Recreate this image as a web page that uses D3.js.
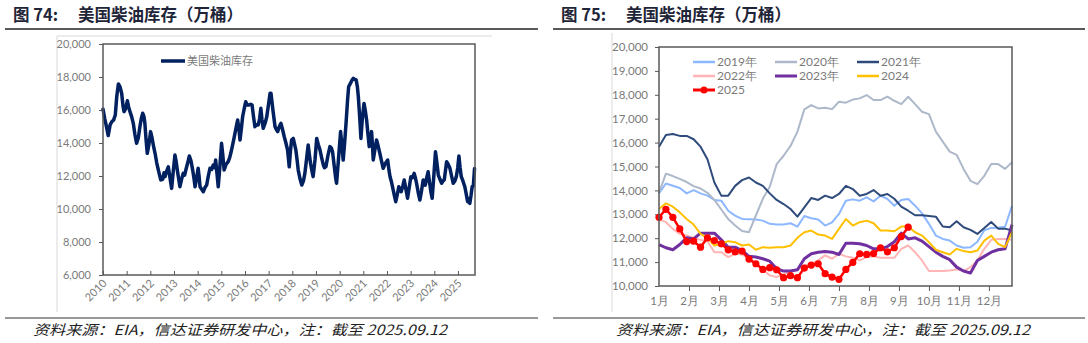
<!DOCTYPE html>
<html><head><meta charset="utf-8">
<script src="https://cdn.jsdelivr.net/npm/d3@7"></script>
<style>body{margin:0;background:#fff}</style>
</head><body><svg id="c" width="1088" height="343"></svg>
<script>
// ---------- DATA ----------
const leftDates = [2010.00,2010.07,2010.13,2010.22,2010.30,2010.37,2010.45,2010.52,2010.58,2010.65,2010.72,2010.79,2010.85,2010.89,2010.96,2011.03,2011.08,2011.14,2011.21,2011.28,2011.35,2011.42,2011.49,2011.56,2011.62,2011.68,2011.73,2011.77,2011.82,2011.87,2011.94,2012.01,2012.06,2012.10,2012.15,2012.20,2012.27,2012.34,2012.44,2012.52,2012.58,2012.62,2012.69,2012.76,2012.83,2012.90,2012.97,2013.04,2013.09,2013.14,2013.20,2013.25,2013.32,2013.39,2013.45,2013.50,2013.58,2013.65,2013.72,2013.79,2013.85,2013.89,2013.96,2014.02,2014.06,2014.10,2014.17,2014.24,2014.31,2014.38,2014.45,2014.52,2014.59,2014.66,2014.72,2014.76,2014.82,2014.87,2014.94,2015.01,2015.06,2015.12,2015.20,2015.29,2015.35,2015.40,2015.48,2015.55,2015.62,2015.69,2015.74,2015.79,2015.85,2015.90,2015.97,2016.03,2016.10,2016.17,2016.24,2016.30,2016.36,2016.42,2016.49,2016.56,2016.62,2016.67,2016.72,2016.77,2016.85,2016.92,2017.00,2017.06,2017.10,2017.18,2017.27,2017.33,2017.38,2017.45,2017.52,2017.59,2017.66,2017.73,2017.80,2017.84,2017.87,2017.92,2017.97,2018.04,2018.10,2018.15,2018.20,2018.25,2018.33,2018.40,2018.47,2018.53,2018.60,2018.67,2018.72,2018.77,2018.83,2018.88,2018.96,2019.03,2019.10,2019.17,2019.24,2019.31,2019.36,2019.42,2019.50,2019.59,2019.65,2019.70,2019.78,2019.83,2019.87,2019.95,2020.04,2020.10,2020.15,2020.21,2020.27,2020.33,2020.38,2020.45,2020.52,2020.58,2020.64,2020.70,2020.75,2020.79,2020.85,2020.90,2020.96,2021.03,2021.08,2021.14,2021.20,2021.25,2021.30,2021.35,2021.39,2021.42,2021.49,2021.56,2021.63,2021.70,2021.77,2021.84,2021.91,2021.98,2022.03,2022.08,2022.13,2022.18,2022.22,2022.30,2022.37,2022.44,2022.50,2022.55,2022.60,2022.67,2022.73,2022.80,2022.87,2022.94,2023.01,2023.08,2023.15,2023.20,2023.25,2023.32,2023.39,2023.46,2023.53,2023.58,2023.62,2023.68,2023.74,2023.80,2023.86,2023.91,2023.98,2024.05,2024.11,2024.17,2024.24,2024.31,2024.37,2024.42,2024.47,2024.52,2024.59,2024.66,2024.73,2024.80,2024.87,2024.93,2024.99,2025.04,2025.09,2025.14,2025.21,2025.29,2025.35,2025.41,2025.46,2025.50,2025.55,2025.60,2025.65,2025.70];
const leftValues = [16050,15500,15100,14450,15100,15290,15400,15700,16800,17580,17400,17000,16200,15900,16100,16560,16200,15900,15600,15190,14500,13980,14300,14990,15500,15800,15600,15190,14200,13375,13900,14690,14400,14080,13700,13375,12800,12360,11760,11800,12200,11960,12300,12560,11900,11250,12300,13270,12900,12360,11800,11350,11800,12160,12050,12360,12800,13210,12900,12360,11800,11350,11900,12470,12000,11350,11200,11050,11300,11450,12000,12470,12400,12670,12500,12970,12100,11350,12600,13980,13300,12360,12700,12870,13100,13375,13900,14380,14900,15390,14900,14180,14900,15590,16100,16500,16300,16300,16350,16300,15600,14990,15100,15090,15500,16100,15400,14890,15200,15590,16400,17010,17010,16000,14990,14800,14690,15000,15190,14800,14380,14000,13575,13000,12560,13500,14180,14280,13900,13575,13000,12360,11800,11450,11700,12160,13000,13880,13300,12770,12300,11960,13000,14280,13900,13575,13100,12670,12500,12570,13200,13780,13700,13475,12500,11900,11560,13000,14690,13800,12970,14000,15190,16500,17410,17600,17800,17920,17850,17820,17400,16805,15500,14280,15500,16400,16000,15390,14500,13780,14300,14690,13800,12970,13600,14180,13800,13375,12900,12470,12700,12870,12970,12400,11960,11700,11450,10900,10440,10900,11350,11200,11050,11400,11760,11200,10650,11300,11960,11900,12160,11900,11560,11000,10545,11100,11760,11600,11450,11900,12260,11600,11000,10650,12000,13475,12800,12060,11800,11560,11700,11760,12300,12870,12700,12470,12000,11560,11700,11960,12500,13210,12500,11960,11700,11350,10900,10440,10600,10340,10800,11350,11400,12450];
const leftYearTicks = [2010,2011,2012,2013,2014,2015,2016,2017,2018,2019,2020,2021,2022,2023,2024,2025];
const leftYTicks = [6000,8000,10000,12000,14000,16000,18000,20000];
const leftSeriesName = "美国柴油库存";

const monthLabels = ["1月","2月","3月","4月","5月","6月","7月","8月","9月","10月","11月","12月"];
const rightYTicks = [10000,11000,12000,13000,14000,15000,16000,17000,18000,19000,20000];
const seriesNames = ["2019年","2020年","2021年","2022年","2023年","2024","2025"];
const s2019 = [13875,14290,14195,14100,13875,14015,13875,13780,13600,13570,13150,12945,12805,12790,12780,12735,12600,12570,12570,12625,12485,12930,12835,12780,12530,12665,13015,13570,13625,13570,13710,13540,13780,13640,13360,13600,13640,13360,13040,12600,12110,11970,11900,11695,11600,11620,11850,12330,12430,12440,12480,13360];
const s2020 = [13900,14700,14600,14480,14350,14180,14080,13900,13600,13200,12800,12530,12300,12250,12950,13650,14150,15100,15450,15860,16460,17390,17570,17430,17460,17400,17710,17670,17800,17850,17990,17780,17780,17920,17750,17610,17920,17610,17290,17190,16460,16040,15625,15490,14900,14400,14265,14610,15100,15100,14900,15180];
const s2021 = [15830,16320,16360,16280,16280,16140,15830,15300,14330,13780,13780,14190,14430,14540,14330,14190,13875,13600,13430,13220,12900,13290,13680,13600,13780,13680,13850,14190,14055,13780,13850,14015,13780,13850,13650,13320,13150,12960,12960,12930,12900,12490,12460,12710,12460,12350,12180,12430,12680,12400,12400,12320];
const s2022 = [12800,12670,12390,12180,12110,12015,11930,11875,11415,11415,11210,11350,11320,11140,10930,10680,10445,10375,10490,10625,10680,10860,10930,11070,11280,11140,11350,11240,11180,11070,11210,11240,11180,11180,11180,11555,11695,11415,11070,10625,10625,10625,10650,10695,10625,10790,11070,11555,11930,11970,11970,11930];
const s2023 = [11735,11600,11515,11735,12015,11970,12210,12210,12210,11930,11625,11625,11485,11240,11210,11140,11040,10720,10625,10625,10680,11140,11350,11415,11445,11415,11320,11790,11790,11765,11695,11555,11555,11650,11850,12210,11970,12015,11875,11650,11415,11240,11100,10790,10625,10540,11070,11240,11415,11515,11555,12570];
const s2024 = [13220,13460,13320,13080,12805,12570,12180,12015,11695,11765,11875,11835,11695,11735,11515,11625,11600,11625,11625,11695,12015,12250,12320,12150,12110,11970,12390,12805,12530,12670,12735,12625,12320,12320,12290,12485,12485,12250,12110,11835,11515,11415,11320,11555,11460,11415,11485,11900,12110,11765,11625,12250];
const s2025 = [12875,13210,12875,12390,11860,11875,11625,12015,11900,11765,11515,11430,11460,11125,10930,10695,10765,10680,10350,10430,10350,10750,10875,10930,10515,10375,10280,10695,10985,11350,11320,11360,11600,11430,11600,12070,12460];

// ---------- STYLE ----------
const colors = ["#8db8ff","#adb8ca","#2f4b7c","#ffb5b5","#7030a0","#ffc000","#ff0000"];
const widths = [2,2,2,2,3,2,2.5];
const tickFont = "Lato, 'Liberation Sans', sans-serif";
const cjk = "'Noto Sans CJK SC', sans-serif";
const tickColor = "#7a7a7a";
const frameColor = "#595959";

const svg = d3.select("#c");
svg.append("rect").attr("width",1088).attr("height",343).attr("fill","#fff");

// titles and rules
function header(x0, x1, num) {
  svg.append("text").attr("x", x0 + 8).attr("y", 21).attr("font-family", cjk).attr("font-weight", "bold")
    .attr("font-size", 16.5).attr("fill", "#1f2538").text("图 " + num + ":");
  svg.append("text").attr("x", x0 + 73).attr("y", 21).attr("font-family", cjk).attr("font-weight", "bold")
    .attr("font-size", 16.5).attr("fill", "#1f2538").text("美国柴油库存（万桶）");
  svg.append("line").attr("x1", x0).attr("x2", x1).attr("y1", 29).attr("y2", 29)
    .attr("stroke", "#222").attr("stroke-width", 1.5);
  svg.append("line").attr("x1", x0).attr("x2", x1).attr("y1", 318).attr("y2", 318)
    .attr("stroke", "#333").attr("stroke-width", 1);
}
header(5, 538, 74);
header(553, 1085, 75);

function footer(x) {
  svg.append("text").attr("x", x).attr("y", 335).attr("font-family", cjk).attr("font-style", "italic")
    .attr("font-size", 14).attr("fill", "#222").attr("textLength", 414).attr("lengthAdjust", "spacingAndGlyphs")
    .text("资料来源：EIA，信达证券研发中心，注：截至 2025.09.12");
}
footer(33);
footer(616);

// outer chart-area borders (light gray)
svg.append("line").attr("x1",57).attr("x2",57).attr("y1",36).attr("y2",312).attr("stroke","#d9d9d9");
svg.append("line").attr("x1",57).attr("x2",492).attr("y1",36).attr("y2",36).attr("stroke","#d9d9d9");
svg.append("line").attr("x1",612).attr("x2",612).attr("y1",33).attr("y2",312).attr("stroke","#d9d9d9");

// ---------- LEFT CHART ----------
const L = {x0:103, x1:475, y0:44, y1:275};
const xL = d3.scaleLinear().domain([2010, 2025.72]).range([L.x0, L.x1]);
const yL = d3.scaleLinear().domain([6000, 20000]).range([L.y1, L.y0]);

const gL = svg.append("g");
const yAxL = gL.append("g").attr("transform", `translate(${L.x0},0)`)
  .call(d3.axisLeft(yL).tickValues(leftYTicks).tickFormat(d3.format(",")).tickSize(4).tickPadding(8));
const xAxL = gL.append("g").attr("transform", `translate(0,${L.y1})`)
  .call(d3.axisBottom(xL).tickValues(leftYearTicks).tickFormat(d3.format("d")).tickSize(-4).tickPadding(0));
[yAxL, xAxL].forEach(a => {
  a.select(".domain").remove();
  a.selectAll("line").attr("stroke", frameColor);
  a.selectAll("text").attr("font-family", tickFont).attr("font-size", 11).attr("fill", tickColor);
});
xAxL.selectAll("text")
  .attr("text-anchor", "end").attr("dy", null).attr("y", 0)
  .attr("transform", "translate(4,9) rotate(-45)");

gL.append("path").datum(leftDates.map((d, i) => [d, leftValues[i]]))
  .attr("fill", "none").attr("stroke", "#002060").attr("stroke-width", 3.5)
  .attr("stroke-linejoin", "round").attr("stroke-linecap", "round")
  .attr("d", d3.line().x(d => xL(d[0])).y(d => yL(d[1])));

gL.append("rect").attr("x", L.x0).attr("y", L.y0).attr("width", L.x1 - L.x0).attr("height", L.y1 - L.y0)
  .attr("fill", "none").attr("stroke", frameColor).attr("stroke-width", 1.5);

gL.append("line").attr("x1",161).attr("x2",185).attr("y1",61).attr("y2",61).attr("stroke","#002060").attr("stroke-width",3.5);
gL.append("text").attr("x",187).attr("y",61).attr("dy","0.35em").attr("font-family",cjk).attr("font-size",11)
  .attr("fill","#7a7a7a").text(leftSeriesName);

// ---------- RIGHT CHART ----------
const R = {x0:659, x1:1012, y0:47, y1:286};
const xR = d3.scaleLinear().domain([0, 51]).range([R.x0, R.x1]);
const yR = d3.scaleLinear().domain([10000, 20000]).range([R.y1, R.y0]);
const gR = svg.append("g");

const yAxR = gR.append("g").attr("transform", `translate(${R.x0},0)`)
  .call(d3.axisLeft(yR).tickValues(rightYTicks).tickFormat(d3.format(",")).tickSize(4).tickPadding(7));
const monthPos = monthLabels.map((m, i) => i * 52 / 12);
const xAxR = gR.append("g").attr("transform", `translate(0,${R.y1})`)
  .call(d3.axisBottom(xR).tickValues(monthPos).tickFormat((d, i) => monthLabels[i]).tickSize(5).tickPadding(6));
[yAxR, xAxR].forEach(a => {
  a.select(".domain").remove();
  a.selectAll("line").attr("stroke", frameColor);
  a.selectAll("text").attr("font-family", tickFont).attr("font-size", 11.5).attr("fill", tickColor);
});
xAxR.selectAll(".tick").filter((d, i) => i === 0).select("line").remove();

const allSeries = [s2019, s2020, s2021, s2022, s2023, s2024, s2025];
const lineR = d3.line().x((d, i) => xR(i)).y(d => yR(d));
allSeries.forEach((s, k) => {
  gR.append("path").datum(s).attr("fill", "none").attr("stroke", colors[k])
    .attr("stroke-width", widths[k]).attr("stroke-linejoin", "round").attr("d", lineR);
});
gR.append("g").selectAll("circle").data(s2025).join("circle")
  .attr("cx", (d, i) => xR(i)).attr("cy", d => yR(d)).attr("r", 3.6).attr("fill", colors[6]);

gR.append("rect").attr("x", R.x0).attr("y", R.y0).attr("width", R.x1 - R.x0).attr("height", R.y1 - R.y0)
  .attr("fill", "none").attr("stroke", frameColor).attr("stroke-width", 1.5);

// legend
const legCols = [693, 775, 857];
const legRows = [62, 76, 90];
seriesNames.forEach((name, k) => {
  const lx = legCols[k % 3], ly = legRows[Math.floor(k / 3)];
  gR.append("line").attr("x1", lx).attr("x2", lx + 22).attr("y1", ly).attr("y2", ly)
    .attr("stroke", colors[k]).attr("stroke-width", Math.min(widths[k] + 0.5, 3));
  if (k === 6) gR.append("circle").attr("cx", lx + 11).attr("cy", ly).attr("r", 3.5).attr("fill", colors[k]);
  gR.append("text").attr("x", lx + 24).attr("y", ly).attr("dy", "0.35em").attr("font-family", tickFont)
    .attr("font-size", 12).attr("fill", tickColor).text(name);
});
</script></body></html>
